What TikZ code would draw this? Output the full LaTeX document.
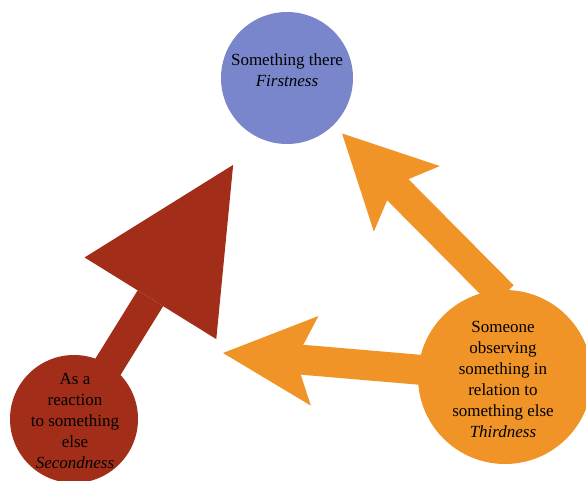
\documentclass[tikz,border=0pt]{standalone}
\usepackage{fontspec}
\setmainfont{Liberation Serif}
\usetikzlibrary{arrows.meta}
\definecolor{firstblue}{RGB}{122,134,204}
\definecolor{secondred}{RGB}{162,46,26}
\definecolor{thirdorange}{RGB}{240,148,40}

\begin{document}
\begin{tikzpicture}[x=1pt, y=-1pt,
  circ/.style={circle, inner sep=0pt},
  txt/.style={align=center, font=\fontsize{17}{21}\selectfont},
  fat/.style={line width=30pt, shorten <=-8pt}]
\useasboundingbox (0,0) rectangle (586,480);

\node[circ, fill=firstblue, minimum size=132pt] (first) at (287,78) {};
\node[circ, fill=secondred, minimum size=128pt] (second) at (74,419) {};
\node[circ, fill=thirdorange, minimum size=174pt] (third) at (505,377) {};
\coordinate (thirdtip) at (223,353);

\draw[fat, secondred, -{Triangle[length=157pt, width=155pt, line width=0pt]}, shorten >=36pt] (second.57) -- (first);
\draw[fat, thirdorange, -{Stealth[length=92pt, width=93pt, inset=19pt, line width=0pt]}, shorten >=12pt] (third.95) -- (first);
\draw[fat, thirdorange, -{Stealth[length=92pt, width=90pt, inset=19pt, line width=0pt]}] (third) -- (thirdtip);

\node[txt] (firsttext) at (287,70) {Something there\\\textit{Firstness}};
\node[txt] (secondtext) at (75,421) {As a\\reaction\\to something\\else\\\textit{Secondness}};
\node[txt] (thirdtext) at (503,379) {Someone\\observing\\something in\\relation to\\something else\\\textit{Thirdness}};
\end{tikzpicture}
\end{document}
